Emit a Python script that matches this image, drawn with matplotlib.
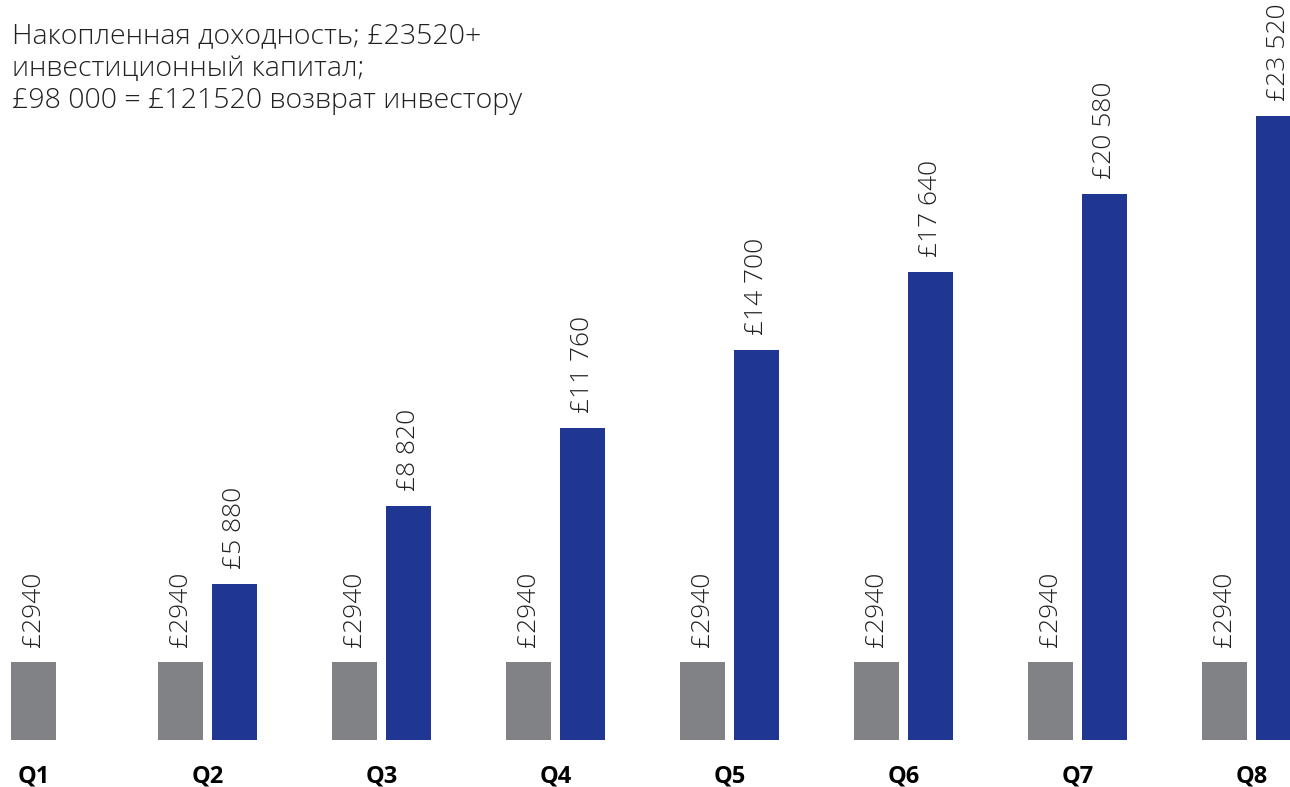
import matplotlib
matplotlib.use("Agg")
import matplotlib.pyplot as plt
import numpy as np

plt.rcParams["font.family"] = ["Open Sans", "DejaVu Sans"]

quarters = ["Q1", "Q2", "Q3", "Q4", "Q5", "Q6", "Q7", "Q8"]
capital = [2940, 2940, 2940, 2940, 2940, 2940, 2940, 2940]
returns = [None, 5880, 8820, 11760, 14700, 17640, 20580, 23520]
capital_labels = ["£2940"] * 8
return_labels = [None, "£5 880", "£8 820", "£11 760", "£14 700", "£17 640", "£20 580", "£23 520"]
title_lines = [
    "Накопленная доходность; £23520+",
    "инвестиционный капитал;",
    "£98 000 = £121520 возврат инвестору",
]

GREY = "#818286"
BLUE = "#1f3793"

W, H = 1290, 787
fig = plt.figure(figsize=(W / 100, H / 100), dpi=100)
ax = fig.add_axes([0, 47 / H, 1, 740 / H])

x = np.arange(len(quarters))
bar_w = 0.259
off = 0.155

for i, q in enumerate(quarters):
    if returns[i] is None:
        gx = x[i]
    else:
        gx = x[i] - off
        ax.bar(x[i] + off, returns[i], width=bar_w, color=BLUE)
        ax.annotate(return_labels[i], (x[i] + off, returns[i]), xytext=(0, 10.5),
                    textcoords="offset points", rotation=90, ha="center", va="bottom",
                    fontsize=19, fontweight="light", color="#222222")
    ax.bar(gx, capital[i], width=bar_w, color=GREY)
    ax.annotate(capital_labels[i], (gx, capital[i]), xytext=(0, 10.5),
                textcoords="offset points", rotation=90, ha="center", va="bottom",
                fontsize=19, fontweight="light", color="#222222")

ax.set_xlim(-0.1925, 7.221)
ax.set_ylim(0, 740 * 2940 / 78)
ax.set_xticks(x)
ax.set_xticklabels(quarters, fontsize=17, fontweight="bold")
ax.tick_params(axis="x", length=0, pad=18)
ax.set_yticks([])
for s in ax.spines.values():
    s.set_visible(False)

fig.text(12 / W, 1 - 22 / H, "\n".join(title_lines), ha="left", va="top",
         fontsize=20.5, fontweight="light", color="#222222", linespacing=1.22)

fig.savefig("out.png", dpi=100)
